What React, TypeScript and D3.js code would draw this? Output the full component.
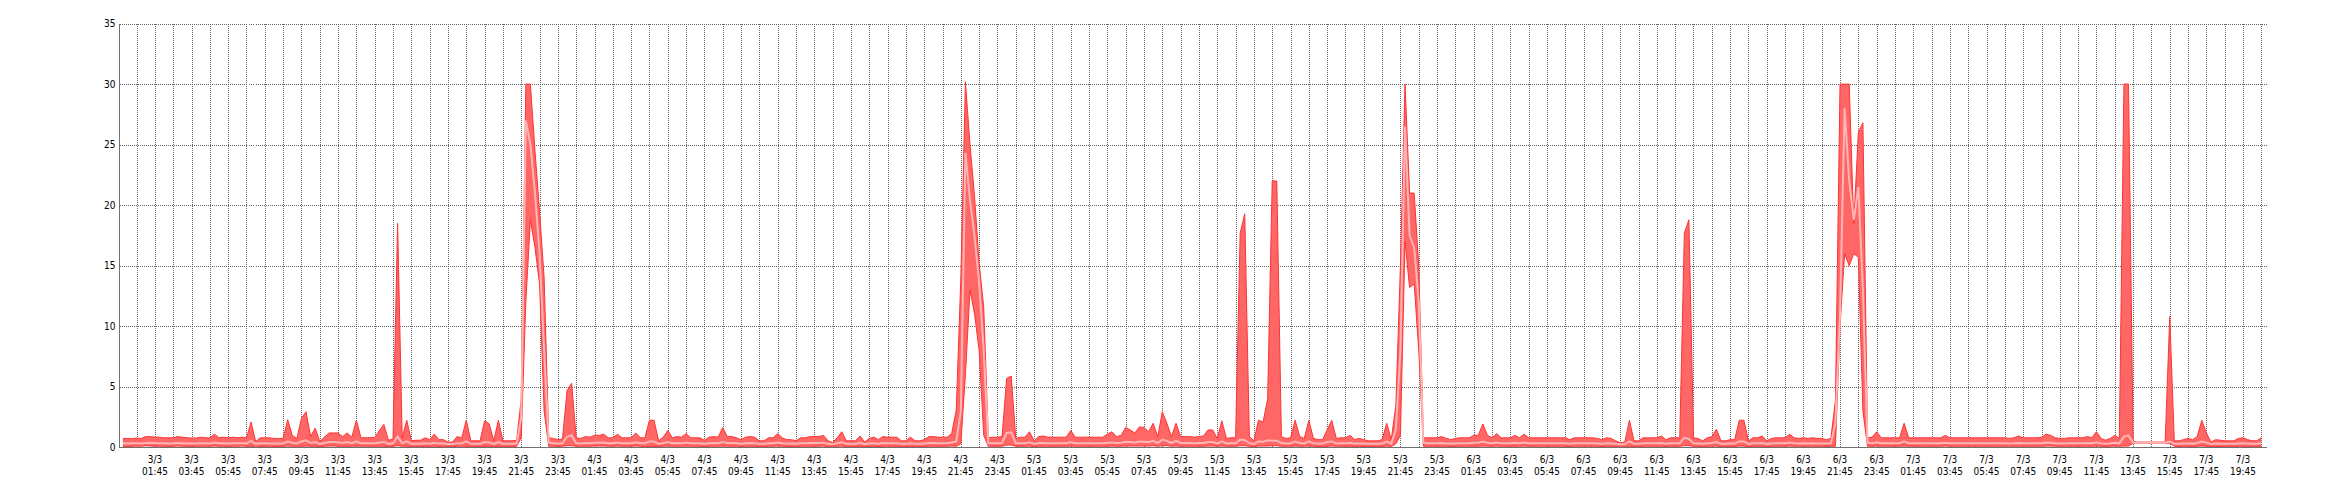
import React from 'react';
import * as d3 from 'd3';

// 15-minute samples starting 3/3 00:00
const maxValues = [
  0.75,0.75,0.72,0.78,0.75,0.9,0.9,0.85,0.85,0.8,0.8,0.8,0.9,0.85,0.8,0.78,0.78,0.85,0.8,0.8,1.1,0.8,0.85,0.8,
  0.85,0.8,0.85,0.8,2.1,0.5,0.8,0.8,0.8,0.75,0.75,0.75,2.3,1.0,0.75,2.4,2.95,0.9,1.6,0.5,0.85,1.2,1.2,1.2,
  0.9,1.2,0.85,2.25,0.8,0.8,0.82,0.8,1.4,1.9,0.6,0.7,18.5,0.8,2.25,0.55,0.6,0.6,0.8,0.65,1.1,0.65,0.65,0.45,
  0.45,0.9,0.8,2.25,0.55,0.55,0.55,2.2,1.95,0.55,2.25,0.55,0.55,0.55,0.6,4,30,30,24.5,19.5,14,0.8,0.75,0.65,
  0.7,4.7,5.3,0.8,0.75,0.9,0.85,1.0,1.0,1.1,0.8,0.8,1.1,0.8,0.8,0.8,1.2,0.8,0.8,2.25,2.25,0.55,0.85,1.4,
  0.8,0.9,0.85,1.15,0.8,0.8,0.8,0.6,0.85,0.9,0.85,1.65,0.9,0.9,0.8,0.65,0.85,0.9,0.85,0.55,0.55,0.8,0.8,1.15,
  0.8,0.65,0.65,0.55,0.8,0.8,0.9,0.9,0.9,1.0,0.55,0.4,0.8,1.3,0.55,0.55,0.55,0.95,0.45,0.75,0.85,0.65,0.9,0.85,
  0.85,0.85,0.55,0.55,0.85,0.55,0.55,0.65,0.9,0.9,0.85,0.85,0.85,1.15,3.1,14,30.2,25,20.7,15.2,11.6,0.8,0.85,0.85,
  0.9,5.7,5.9,0.75,0.85,0.85,1.3,0.55,0.9,0.95,0.85,0.85,0.85,0.85,0.85,1.4,0.85,0.85,0.85,0.85,0.85,0.85,0.85,1.1,
  1.3,0.9,1.0,1.65,1.45,1.2,1.7,1.65,1.3,2.0,0.9,2.95,2.0,0.9,2.0,0.9,0.9,0.9,0.85,0.9,0.95,1.45,1.45,0.75,
  2.2,0.75,0.8,0.8,17.7,19.3,0.9,0.55,2.25,2.1,4.0,22,22,0.9,0.75,0.8,2.25,0.9,0.75,2.25,0.75,0.65,0.65,1.45,
  2.25,0.75,0.8,0.8,1.0,0.65,0.75,0.65,0.55,0.55,0.55,0.65,2.0,0.65,3.5,15,30,21,21,15,0.8,0.8,0.8,0.8,
  0.9,0.75,0.65,0.75,0.8,0.8,0.8,1.0,1.0,1.95,1.0,0.8,1.15,0.8,0.8,0.8,1.0,0.8,1.1,0.8,0.8,0.8,0.8,0.8,
  0.8,0.8,0.8,0.8,0.65,0.8,0.8,0.8,0.8,0.8,0.75,0.65,0.8,0.75,0.55,0.4,0.45,2.25,0.55,0.55,0.8,0.8,0.8,0.8,
  0.95,0.65,0.8,0.8,0.8,17.7,18.8,0.8,0.75,0.55,0.8,0.9,1.5,0.55,0.55,0.65,0.65,2.25,2.25,0.55,0.8,0.8,0.95,0.55,
  0.75,0.8,0.8,0.8,1.1,0.8,0.75,0.8,0.75,0.8,0.75,0.75,0.65,0.75,3.9,30,30,30,18.5,26,26.8,0.8,0.85,1.3,
  0.8,0.8,0.8,0.8,0.8,2.0,0.8,0.8,0.8,0.8,0.8,0.8,0.8,0.8,1.0,0.8,0.8,0.8,0.8,0.8,0.8,0.8,0.8,0.8,
  0.8,0.8,0.8,0.8,0.75,0.8,0.95,0.8,0.8,0.8,0.8,0.85,1.1,1.0,0.8,0.75,0.75,0.8,0.8,0.8,0.8,0.9,0.8,1.3,
  0.75,0.6,0.75,1.0,0.75,30,30,0.5,0.45,0.45,0.45,0.45,0.45,0.45,0.45,10.8,0.55,0.55,0.65,0.75,0.65,0.9,2.25,1.2,
  0.45,0.65,0.6,0.55,0.55,0.55,0.75,0.8,0.65,0.55,0.55,0.8,
];

const avgValues = [
  0.35,0.33,0.35,0.36,0.34,0.38,0.4,0.37,0.36,0.35,0.34,0.35,0.38,0.36,0.34,0.33,0.34,0.36,0.35,0.34,0.42,0.35,0.36,0.34,
  0.36,0.35,0.36,0.34,0.55,0.3,0.35,0.35,0.34,0.33,0.33,0.34,0.5,0.4,0.33,0.5,0.6,0.38,0.45,0.3,0.38,0.45,0.45,0.44,
  0.38,0.45,0.36,0.5,0.35,0.35,0.36,0.35,0.42,0.48,0.3,0.35,0.9,0.35,0.5,0.3,0.3,0.3,0.35,0.32,0.4,0.32,0.32,0.28,
  0.28,0.36,0.34,0.5,0.3,0.3,0.3,0.45,0.42,0.3,0.45,0.3,0.3,0.3,0.32,2.5,27,25,21,16,8,0.4,0.35,0.33,
  0.34,0.9,1.0,0.35,0.34,0.37,0.36,0.4,0.4,0.42,0.35,0.35,0.42,0.35,0.35,0.35,0.44,0.35,0.35,0.5,0.5,0.3,0.36,0.45,
  0.35,0.37,0.36,0.42,0.35,0.35,0.35,0.3,0.36,0.37,0.36,0.48,0.37,0.37,0.35,0.32,0.36,0.37,0.36,0.3,0.3,0.35,0.35,0.42,
  0.35,0.32,0.32,0.3,0.35,0.35,0.37,0.37,0.37,0.4,0.3,0.26,0.35,0.44,0.3,0.3,0.3,0.38,0.28,0.34,0.36,0.32,0.37,0.36,
  0.36,0.36,0.3,0.3,0.36,0.3,0.3,0.32,0.37,0.37,0.36,0.36,0.36,0.42,0.5,3,24.3,20.4,17.4,13.6,8,0.35,0.36,0.36,
  0.37,1.2,1.25,0.34,0.36,0.36,0.44,0.3,0.37,0.38,0.36,0.36,0.36,0.36,0.36,0.45,0.36,0.36,0.36,0.36,0.36,0.36,0.36,0.4,
  0.44,0.37,0.4,0.48,0.45,0.42,0.5,0.48,0.44,0.55,0.37,0.65,0.55,0.37,0.55,0.37,0.37,0.37,0.36,0.37,0.38,0.45,0.45,0.34,
  0.5,0.34,0.35,0.35,0.65,0.6,0.36,0.3,0.5,0.48,0.6,0.55,0.55,0.37,0.34,0.35,0.5,0.37,0.34,0.5,0.34,0.32,0.32,0.45,
  0.5,0.34,0.35,0.35,0.4,0.32,0.34,0.32,0.3,0.3,0.3,0.32,0.48,0.32,1.5,8,26.5,17.5,16.5,12,0.4,0.35,0.35,0.35,
  0.37,0.34,0.32,0.34,0.35,0.35,0.35,0.4,0.4,0.5,0.4,0.35,0.42,0.35,0.35,0.35,0.4,0.35,0.42,0.35,0.35,0.35,0.35,0.35,
  0.35,0.35,0.35,0.35,0.32,0.35,0.35,0.35,0.35,0.35,0.34,0.32,0.35,0.34,0.3,0.26,0.28,0.5,0.3,0.3,0.35,0.35,0.35,0.35,
  0.38,0.32,0.35,0.35,0.35,0.8,0.7,0.35,0.34,0.3,0.35,0.37,0.45,0.3,0.3,0.32,0.32,0.5,0.5,0.3,0.35,0.35,0.38,0.3,
  0.34,0.35,0.35,0.35,0.42,0.35,0.34,0.35,0.34,0.35,0.34,0.34,0.32,0.34,2,11,28,22,18.8,21.5,13,0.4,0.36,0.44,
  0.35,0.35,0.35,0.35,0.35,0.5,0.35,0.35,0.35,0.35,0.35,0.35,0.35,0.35,0.4,0.35,0.35,0.35,0.35,0.35,0.35,0.35,0.35,0.35,
  0.35,0.35,0.35,0.35,0.34,0.35,0.38,0.35,0.35,0.35,0.35,0.36,0.42,0.4,0.35,0.34,0.34,0.35,0.35,0.35,0.35,0.37,0.35,0.44,
  0.34,0.3,0.34,0.4,0.34,0.9,1.0,0.4,0.4,0.4,0.4,0.4,0.4,0.4,0.4,0.5,0.3,0.3,0.32,0.34,0.32,0.37,0.5,0.4,
  0.28,0.32,0.3,0.3,0.3,0.3,0.34,0.35,0.32,0.3,0.3,0.35,
];

const minValues = [
  0.1,0.05,0.1,0.12,0.1,0.15,0.12,0.1,0.1,0.1,0.08,0.1,0.12,0.1,0.1,0.08,0.1,0.1,0.1,0.1,0.12,0.1,0.1,0.08,
  0.1,0.1,0.12,0.1,0.1,0,0.05,0.1,0.1,0.08,0.08,0.1,0.12,0.1,0.1,0.1,0.12,0.1,0.1,0.05,0.1,0.12,0.12,0.1,
  0.1,0.1,0.1,0.12,0.1,0.1,0.1,0.1,0.1,0.1,0.05,0.1,0.15,0.1,0.1,0.05,0.05,0.08,0.1,0.08,0,0.08,0.1,0.05,
  0.05,0.1,0.1,0.1,0.05,0.05,0.05,0.1,0.1,0.05,0.1,0.05,0.05,0.05,0.1,0.8,12,18.8,16.5,13.5,3,0.1,0.1,0.08,
  0.1,0.15,0.15,0.1,0.1,0.1,0.1,0.12,0.12,0.12,0.1,0.1,0.12,0.1,0.1,0.1,0.12,0.1,0.05,0.1,0.1,0.05,0.1,0.12,
  0.1,0.1,0.1,0.12,0.1,0.1,0.1,0.05,0.1,0.1,0.1,0.12,0.1,0.1,0.1,0.08,0.1,0.1,0.1,0.05,0.05,0.1,0.1,0.12,
  0.1,0.08,0.08,0.05,0.1,0.1,0.1,0.1,0.1,0.12,0.05,0.02,0.1,0.12,0.05,0.05,0.05,0.1,0.05,0.1,0.1,0.08,0.1,0.1,
  0.1,0.1,0.05,0.05,0.1,0.05,0.05,0.08,0.1,0.1,0.1,0.1,0.1,0.12,0.1,0.3,6,13,11,8,1,0.1,0.1,0.1,
  0.1,0.2,0.2,0.1,0.1,0.1,0.12,0.05,0.1,0.1,0.1,0.1,0.1,0.1,0.1,0.12,0.1,0.1,0.1,0.1,0.1,0.1,0.1,0.1,
  0.12,0.1,0.1,0.12,0.12,0.12,0.12,0.12,0.12,0.15,0.1,0.15,0.15,0.1,0.12,0.1,0.1,0.1,0.1,0.1,0.1,0.12,0.12,0.1,
  0.12,0.1,0.1,0.1,0.15,0.15,0.1,0.05,0.12,0.12,0.12,0.15,0.15,0.1,0.1,0.1,0.12,0.1,0.1,0.12,0.1,0.08,0.08,0.1,
  0.12,0.1,0.1,0.1,0.1,0.08,0.1,0.08,0.05,0.05,0.05,0.08,0.12,0.08,0.3,1,17,13.2,13.5,8,0.1,0.1,0.1,0.1,
  0.1,0.1,0.08,0.1,0.1,0.1,0.1,0.1,0.1,0.12,0.1,0.1,0.12,0.1,0.1,0.1,0.1,0.1,0.12,0.1,0.1,0.1,0.1,0.1,
  0.1,0.1,0.1,0.1,0.08,0.1,0.1,0.1,0.1,0.1,0.1,0.08,0.1,0.1,0.05,0.02,0.02,0.1,0.05,0.05,0.1,0.1,0.1,0.1,
  0.1,0.08,0.1,0.1,0.1,0.15,0.15,0.1,0.1,0.05,0.1,0.1,0.12,0.05,0.05,0.08,0.08,0.12,0.12,0.05,0.1,0.1,0.1,0.05,
  0.1,0.1,0.1,0.1,0.12,0.1,0.1,0.1,0.1,0.1,0.1,0.1,0.08,0.1,0.1,10,16,15,16,15.7,3,0.1,0.1,0.12,
  0.1,0.1,0.1,0.1,0.1,0.12,0.1,0.1,0.1,0.1,0.1,0.1,0.1,0.1,0.12,0.1,0.1,0.1,0.1,0.1,0.1,0.1,0.1,0.1,
  0.1,0.1,0.1,0.1,0.1,0.1,0.1,0.1,0.1,0.1,0.1,0.1,0.12,0.12,0.1,0.1,0.1,0.1,0.1,0.1,0.1,0.1,0.1,0.12,
  0.1,0.08,0.1,0.12,0.1,0.12,0.12,0.35,0.35,0.35,0.35,0.35,0.35,0.35,0.35,0.35,0.1,0.08,0.1,0.1,0.08,0.1,0.12,0.1,
  0.05,0.08,0.08,0.05,0.05,0.05,0.1,0.1,0.08,0.05,0.05,0.1,
];

const yTicks = [0, 5, 10, 15, 20, 25, 30, 35];
const seriesStart = new Date(2015, 2, 3, 0, 0);
const sampleMinutes = 15;
const axisStart = new Date(2015, 2, 2, 23, 49);
const axisEnd = new Date(2015, 2, 7, 21, 2);

const FONT = "'DejaVu Sans Condensed', 'DejaVu Sans', sans-serif";

export default function App() {
  const W = 2340;
  const H = 500;
  const left = 119.5, right = 2266.5, top = 23.5, bottom = 447.5;

  const x = d3.scaleTime().domain([axisStart, axisEnd]).range([left, right]);
  const y = d3.scaleLinear().domain([0, 35]).range([bottom, top]);

  const data = maxValues.map((v, i) => ({
    t: d3.timeMinute.offset(seriesStart, i * sampleMinutes),
    max: v,
    avg: avgValues[i],
    min: minValues[i],
  }));

  const area = d3.area<any>().x(d => x(d.t)).y0(d => y(d.min)).y1(d => y(d.max));
  const lineMax = d3.line<any>().x(d => x(d.t)).y(d => y(d.max));
  const lineMin = d3.line<any>().x(d => x(d.t)).y(d => y(d.min));
  const lineAvg = d3.line<any>().x(d => x(d.t)).y(d => y(d.avg));

  const hours = d3.timeHour.range(new Date(2015, 2, 3, 0), new Date(2015, 2, 7, 21));
  const gridTimes = hours.map(h => d3.timeMinute.offset(h, 45));
  const labelTimes = gridTimes.filter(t => t.getHours() % 2 === 1);
  const fmtDay = d3.timeFormat('%-d/%-m');
  const fmtTime = d3.timeFormat('%H:%M');

  return (
    <svg width={W} height={H} style={{ position: 'absolute', left: 0, top: 0, background: '#fff' }}>
      <rect x={0} y={0} width={W} height={H} fill="#fff" />
      <g stroke="#666" strokeWidth={1} strokeDasharray="1,1" shapeRendering="crispEdges">
        {yTicks.filter(v => v > 0).map(v => (
          <line key={'h' + v} x1={left} x2={right} y1={Math.round(y(v)) + 0.5} y2={Math.round(y(v)) + 0.5} />
        ))}
        {gridTimes.map((t, i) => (
          <line key={'v' + i} x1={Math.round(x(t)) + 0.5} x2={Math.round(x(t)) + 0.5} y1={top} y2={bottom} />
        ))}
      </g>
      <path d={area(data) || ''} fill="#ff6666" />
      <path d={lineMax(data) || ''} fill="none" stroke="#ff3333" strokeWidth={1} />
      <path d={lineMin(data) || ''} fill="none" stroke="#ff3333" strokeWidth={1} />
      <path d={lineAvg(data) || ''} fill="none" stroke="#ffb5b5" strokeWidth={2} />
      <g stroke="#707070" strokeWidth={1} shapeRendering="crispEdges">
        <line x1={left} x2={left} y1={top} y2={bottom + 0.5} />
        <line x1={left} x2={right} y1={bottom} y2={bottom} />
      </g>
      <g fontFamily={FONT} fontSize={10} fill="#000">
        {yTicks.map(v => (
          <text key={'yl' + v} x={115.5} y={y(v) + 3.5} textAnchor="end">{v}</text>
        ))}
        {labelTimes.map((t, i) => (
          <text key={'xl' + i} x={x(t)} textAnchor="middle">
            <tspan x={x(t)} y={463}>{fmtDay(t)}</tspan>
            <tspan x={x(t)} y={474.5}>{fmtTime(t)}</tspan>
          </text>
        ))}
      </g>
    </svg>
  );
}
